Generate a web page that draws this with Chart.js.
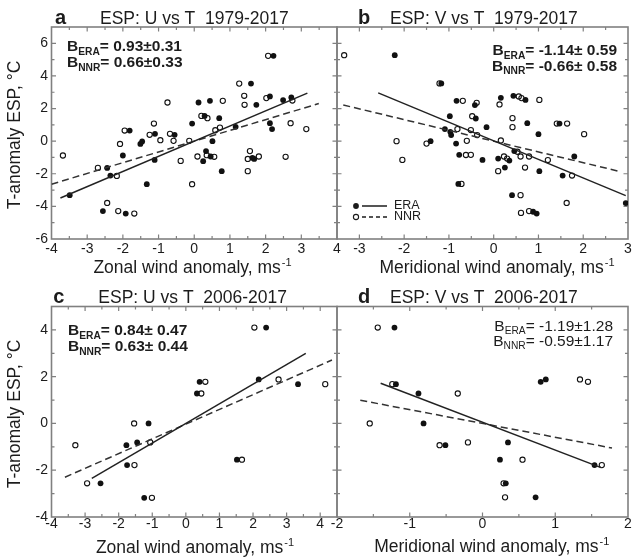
<!DOCTYPE html>
<html>
<head>
<meta charset="utf-8">
<script src="https://cdn.jsdelivr.net/npm/chart.js@4.4.1/dist/chart.umd.min.js"></script>
<style>
  html, body { margin: 0; padding: 0; background: #ffffff; width: 633px; height: 558px; overflow: hidden; }
  body { position: relative; }
  canvas { position: absolute; }
</style>
</head>
<body>
<canvas id="pa"></canvas>
<canvas id="pb"></canvas>
<canvas id="pc"></canvas>
<canvas id="pd"></canvas>
<script>
// ---------------- data ----------------
// a: zonal wind anomaly U vs ESP temperature anomaly, 1979-2017
const aEraU = [-3.49, -2.56, -2.44, -2.35, -2.00, -1.92, -1.81, -1.51, -1.46, -1.33, -1.10, -1.11, -0.55, -0.06, 0.12, 0.29, 0.44, 0.70, 0.51, 0.33, 0.25, 0.46, 0.77, 1.16, 1.59, 1.74, 1.63, 1.68, 2.22, 2.12, 2.12, 2.18, 2.49, 2.72];
const aEraT = [-3.31, -4.29, -1.64, -2.11, -0.88, -4.44, 0.65, -0.17, -0.02, -2.64, 0.45, -1.15, 0.39, 1.08, 2.37, 1.55, 2.47, 1.41, 0.00, -0.61, -1.23, -0.94, -1.84, 0.88, 3.53, 2.23, -1.02, -1.09, 5.23, 2.74, 1.10, 0.74, 2.52, 2.68];
const aNnrU = [-3.68, -2.70, -2.17, -2.44, -2.13, -1.68, -2.08, -1.95, -1.25, -1.13, -0.95, -0.75, -0.68, -0.58, -0.38, -0.14, -0.06, 0.09, 0.20, 0.37, 0.35, 0.56, 0.59, 0.72, 0.80, 1.26, 1.40, 1.41, 1.56, 1.50, 1.81, 1.50, 2.07, 2.02, 2.75, 2.70, 3.14, 2.56];
const aNnrT = [-0.88, -1.64, -2.13, -3.79, -4.29, -4.44, -0.17, 0.65, 0.39, 1.08, 0.06, 2.37, 0.45, 0.02, -1.21, 0.02, -2.64, -0.94, 1.55, 1.41, -0.86, -0.96, 0.67, 0.83, 2.47, 3.53, 2.78, 2.23, -0.61, -1.09, -0.94, -1.84, 5.23, 2.64, 2.49, 1.10, 0.74, -0.96];

// b: meridional wind anomaly V vs ESP temperature anomaly, 1979-2017
const bEraV = [-2.21, -1.17, -0.83, -0.42, -0.98, -0.40, -1.09, -0.97, -0.95, -1.41, -0.84, -0.77, -0.25, -0.79, 0.16, 0.44, 0.71, 0.75, 1.47, 1.00, -0.16, 0.10, 0.35, 0.46, 1.80, 0.25, 1.02, 1.54, 0.41, 0.88, 0.96, 2.95];
const bEraT = [5.27, 3.54, 2.47, 2.21, 1.53, 1.39, 0.74, 0.57, 0.37, 0.00, -0.15, -0.84, -1.15, -2.62, 2.66, 2.78, 2.53, 1.10, 1.08, 0.43, 0.86, -1.07, -1.19, -0.61, -0.94, -1.62, -1.84, -2.11, -3.31, -4.33, -4.44, -3.80];
const bNnrV = [-3.34, -1.21, -0.69, -0.38, -0.48, -0.81, -0.51, -0.37, -2.17, -1.50, -0.60, -2.04, -0.62, -0.51, -0.72, 0.13, 0.56, 0.62, 1.02, 0.42, 0.42, 1.41, 1.64, 2.02, 0.16, 0.23, 0.30, 0.53, 0.60, 0.79, 1.21, 0.10, 0.70, 1.75, 0.60, 0.61, 0.79, 1.63];
const bNnrT = [5.27, 3.54, 2.47, 2.35, 1.53, 0.74, 0.68, 0.37, 0.00, -0.15, 0.02, -1.15, -0.85, -0.84, -2.62, 2.25, 2.74, 2.64, 2.53, 1.41, 0.86, 1.08, 1.08, 0.43, 0.04, -0.94, -1.07, -0.65, -0.94, -0.94, -1.16, -1.84, -1.62, -2.11, -3.31, -4.40, -4.29, -3.79];

// c: zonal wind anomaly U vs ESP temperature anomaly, 2006-2017
const cEraU = [-2.54, -1.77, -1.75, -1.45, -1.11, -1.24, 0.33, 0.41, 1.52, 2.39, 2.17, 3.34];
const cEraT = [-2.56, -0.93, -1.78, -0.81, 0.00, -3.18, 1.28, 1.78, -1.55, 4.10, 1.88, 1.68];
const cNnrU = [-3.29, -2.94, -1.53, -1.54, -1.06, -1.01, 0.46, 0.58, 1.67, 2.04, 2.76, 4.15];
const cNnrT = [-0.93, -2.56, -1.78, 0.00, -0.81, -3.18, 1.28, 1.78, -1.55, 4.10, 1.88, 1.68];

// d: meridional wind anomaly V vs ESP temperature anomaly, 2006-2017
const dEraV = [-1.21, -1.19, -0.88, -0.81, -0.51, 0.35, 0.24, 0.32, 0.73, 0.80, 0.87, 1.54];
const dEraT = [4.10, 1.68, 1.28, 0.00, -0.93, -0.81, -1.55, -2.56, -3.16, 1.78, 1.88, -1.78];
const dNnrV = [-1.44, -1.24, -0.34, -1.55, -0.59, -0.20, 0.55, 0.29, 0.31, 1.34, 1.45, 1.64];
const dNnrT = [4.10, 1.68, 1.28, 0.00, -0.93, -0.81, -1.55, -2.56, -3.16, 1.88, 1.78, -1.78];

// regression slopes B with their uncertainties (panels a, b, c, d)
const slopeEra = [0.93, -1.14, 0.84, -1.19];
const errEra   = [0.31, 0.59, 0.47, 1.28];
const slopeNnr = [0.66, -0.66, 0.63, -0.59];
const errNnr   = [0.33, 0.58, 0.44, 1.17];
const interceptEra = [0.00, 0.02, 0.00, 0.05];
const interceptNnr = [0.00, 0.00, -0.03, 0.00];
// x extent of each fitted line
const spanEra = [[-3.75, 3.17], [-2.58, 2.95], [-2.80, 3.57], [-1.40, 1.63]];
const spanNnr = [[-4.00, 3.49], [-3.36, 2.78], [-3.60, 4.35], [-1.68, 1.78]];

// tick labels
const aXTicks = [-4, -3, -2, -1, 0, 1, 2, 3, 4];
const aYTicks = [-6, -4, -2, 0, 2, 4, 6];
const bXTicks = [-3, -2, -1, 0, 1, 2, 3];
const cXTicks = [-4, -3, -2, -1, 0, 1, 2, 3, 4];
const cYTicks = [-4, -2, 0, 2, 4];
const dXTicks = [-2, -1, 0, 1, 2];

// ---------------- styling ----------------
const FONT = "'Liberation Sans', Arial, Helvetica, sans-serif";
const INK = '#1c1c1c';
const FRAME = '#808080';
const fnt = (size, bold) => (bold ? 'bold ' : '') + size + 'px ' + FONT;

const panels = [
  {
    id: 'pa', k: 0, canvas: { left: 0, top: 0, width: 357, height: 285 },
    area: { L: 51.5, T: 27, R: 337, B: 239 },
    xMin: -4, xMax: 4, yMin: -6, yMax: 7, xTicks: aXTicks, yTicks: aYTicks, showY: true, xPad: 2,
    era: [aEraU, aEraT], nnr: [aNnrU, aNnrT],
    letter: 'a', title: 'ESP: U vs T  1979-2017', letterX: 55, titleX: 100, titleBase: 24,
    bAlign: 'left', bX: 67, bBase: [51, 67], bBold: true, pmGap: '',
    xTitle: 'Zonal wind anomaly, ms', xTitleCx: 192.5, xTitleBase: 272.5,
    yTitle: 'T-anomaly ESP, \u00B0C', yTitleCy: 135, legend: false
  },
  {
    id: 'pb', k: 1, canvas: { left: 317, top: 0, width: 333, height: 285 },
    area: { L: 337, T: 27, R: 628, B: 239 },
    xMin: -3.5, xMax: 3, yMin: -6, yMax: 7, xTicks: bXTicks, yTicks: [], showY: false, xPad: 2,
    era: [bEraV, bEraT], nnr: [bNnrV, bNnrT],
    letter: 'b', title: 'ESP: V vs T  1979-2017', letterX: 358, titleX: 390, titleBase: 24,
    bAlign: 'right', bX: 617, bBase: [55, 70.5], bBold: true, pmGap: ' ',
    xTitle: 'Meridional wind anomaly, ms', xTitleCx: 497, xTitleBase: 272.5,
    yTitle: null, legend: true
  },
  {
    id: 'pc', k: 2, canvas: { left: 0, top: 280, width: 357, height: 278 },
    area: { L: 51.5, T: 306.5, R: 337, B: 517 },
    xMin: -4, xMax: 4.5, yMin: -4, yMax: 5, xTicks: cXTicks, yTicks: cYTicks, showY: true, xPad: -1.5,
    era: [cEraU, cEraT], nnr: [cNnrU, cNnrT],
    letter: 'c', title: 'ESP: U vs T  2006-2017', letterX: 53.3, titleX: 98.3, titleBase: 303.3,
    bAlign: 'left', bX: 68, bBase: [335, 351], bBold: true, pmGap: ' ',
    xTitle: 'Zonal wind anomaly, ms', xTitleCx: 195, xTitleBase: 553,
    yTitle: 'T-anomaly ESP, \u00B0C', yTitleCy: 414, legend: false
  },
  {
    id: 'pd', k: 3, canvas: { left: 317, top: 280, width: 333, height: 278 },
    area: { L: 337, T: 306.5, R: 628, B: 517 },
    xMin: -2, xMax: 2, yMin: -4, yMax: 5, xTicks: dXTicks, yTicks: [], showY: false, xPad: -1.5,
    era: [dEraV, dEraT], nnr: [dNnrV, dNnrT],
    letter: 'd', title: 'ESP: V vs T  2006-2017', letterX: 358, titleX: 390, titleBase: 303.3,
    bAlign: 'right', bX: 613, bBase: [330.5, 345.5], bBold: false, pmGap: '',
    xTitle: 'Meridional wind anomaly, ms', xTitleCx: 491.7, xTitleBase: 552,
    yTitle: null, legend: false
  }
];

// frame with inward ticks on all four sides
const frameTicks = {
  id: 'frameTicks',
  beforeDatasetsDraw(chart) {
    const { ctx, chartArea: a, scales: { x, y } } = chart;
    ctx.save();
    ctx.strokeStyle = FRAME;
    ctx.lineWidth = 1.2;
    ctx.beginPath();
    for (let v = Math.ceil(x.min * 2) / 2; v <= x.max + 1e-9; v += 0.5) {
      const px = x.getPixelForValue(v);
      if (px <= a.left + 0.5 || px >= a.right - 0.5) continue;
      const len = Number.isInteger(v) ? 4.5 : 3;
      ctx.moveTo(px, a.bottom); ctx.lineTo(px, a.bottom - len);
      ctx.moveTo(px, a.top); ctx.lineTo(px, a.top + len);
    }
    for (let v = Math.ceil(y.min); v <= y.max + 1e-9; v += 1) {
      const py = y.getPixelForValue(v);
      if (py <= a.top + 0.5 || py >= a.bottom - 0.5) continue;
      const len = (v % 2 === 0) ? 4.5 : 3;
      ctx.moveTo(a.left, py); ctx.lineTo(a.left + len, py);
      ctx.moveTo(a.right, py); ctx.lineTo(a.right - len, py);
    }
    ctx.stroke();
    ctx.lineWidth = 1.6;
    ctx.strokeRect(a.left, a.top, a.right - a.left, a.bottom - a.top);
    ctx.restore();
  }
};

function drawSlopeLabel(ctx, x, y, sub, tail, bold, align, size) {
  const main = fnt(size, bold), small = fnt(size * 0.66, bold);
  ctx.font = main;
  const wB = ctx.measureText('B').width;
  const wT = ctx.measureText(tail).width;
  ctx.font = small;
  const wS = ctx.measureText(sub).width;
  const x0 = align === 'right' ? x - (wB + wS + wT) : x;
  ctx.textAlign = 'left';
  ctx.textBaseline = 'alphabetic';
  ctx.font = main; ctx.fillText('B', x0, y);
  ctx.font = small; ctx.fillText(sub, x0 + wB, y + 3.5);
  ctx.font = main; ctx.fillText(tail, x0 + wB + wS, y);
}

function makeTextPlugin(p) {
  const ox = p.canvas.left, oy = p.canvas.top;
  return {
    id: 'panelText',
    afterDraw(chart) {
      const ctx = chart.ctx;
      ctx.save();
      ctx.fillStyle = INK;
      ctx.strokeStyle = INK;
      ctx.textBaseline = 'alphabetic';
      ctx.textAlign = 'left';
      // panel letter and title
      ctx.font = fnt(20, true);
      ctx.fillText(p.letter, p.letterX - ox, p.titleBase - oy);
      ctx.font = fnt(17.5, false);
      ctx.fillText(p.title, p.titleX - ox, p.titleBase - oy);
      // regression slopes
      const k = p.k;
      const tailE = '= ' + slopeEra[k].toFixed(2) + '\u00B1' + p.pmGap + errEra[k].toFixed(2);
      const tailN = '= ' + slopeNnr[k].toFixed(2) + '\u00B1' + p.pmGap + errNnr[k].toFixed(2);
      const sz = p.bBold ? 15.5 : 15.5;
      drawSlopeLabel(ctx, p.bX - ox, p.bBase[0] - oy, 'ERA', tailE, p.bBold, p.bAlign, sz);
      drawSlopeLabel(ctx, p.bX - ox, p.bBase[1] - oy, 'NNR', tailN, p.bBold, p.bAlign, sz);
      // x axis title with superscript unit
      ctx.font = fnt(17.5, false);
      const w1 = ctx.measureText(p.xTitle).width;
      ctx.font = fnt(11, false);
      const w2 = ctx.measureText('-1').width;
      const xs = p.xTitleCx - ox - (w1 + w2 + 1) / 2;
      ctx.font = fnt(17.5, false);
      ctx.fillText(p.xTitle, xs, p.xTitleBase - oy);
      ctx.font = fnt(11, false);
      ctx.fillText('-1', xs + w1 + 1, p.xTitleBase - oy - 7);
      // y axis title
      if (p.yTitle) {
        ctx.save();
        ctx.translate(20 - ox, p.yTitleCy - oy);
        ctx.rotate(-Math.PI / 2);
        ctx.textAlign = 'center';
        ctx.font = fnt(17.5, false);
        ctx.fillText(p.yTitle, 0, 0);
        ctx.restore();
      }
      // legend
      if (p.legend) {
        const a = chart.chartArea;
        const mx = a.left + 19, l0 = a.left + 25, l1 = a.left + 50, tx = a.left + 57;
        const r1 = a.bottom - 33, r2 = a.bottom - 22;
        ctx.lineWidth = 1.5;
        ctx.beginPath(); ctx.arc(mx, r1, 2.9, 0, Math.PI * 2); ctx.fill();
        ctx.beginPath(); ctx.moveTo(l0, r1); ctx.lineTo(l1, r1); ctx.stroke();
        ctx.lineWidth = 1.1;
        ctx.beginPath(); ctx.arc(mx, r2, 2.6, 0, Math.PI * 2); ctx.stroke();
        ctx.lineWidth = 1.5;
        ctx.setLineDash([4, 3]);
        ctx.beginPath(); ctx.moveTo(l0, r2); ctx.lineTo(l1, r2); ctx.stroke();
        ctx.setLineDash([]);
        ctx.font = fnt(12.5, false);
        ctx.textBaseline = 'middle';
        ctx.fillText('ERA', tx, r1);
        ctx.fillText('NNR', tx, r2);
      }
      ctx.restore();
    }
  };
}

function pts(xs, ys) { return xs.map((x, i) => ({ x: x, y: ys[i] })); }
function fitLine(k, slope, icpt, span) {
  return span[k].map(x => ({ x: x, y: icpt[k] + slope[k] * x }));
}

function build(p) {
  const cv = document.getElementById(p.id);
  cv.width = p.canvas.width;
  cv.height = p.canvas.height;
  cv.style.left = p.canvas.left + 'px';
  cv.style.top = p.canvas.top + 'px';
  const xH = 22;
  const yW = p.showY ? p.area.L - p.canvas.left : 0;
  const padding = {
    left: p.showY ? 0 : p.area.L - p.canvas.left,
    top: p.area.T - p.canvas.top,
    right: p.canvas.left + p.canvas.width - p.area.R,
    bottom: p.canvas.top + p.canvas.height - p.area.B - xH
  };
  const k = p.k;
  new Chart(cv, {
    type: 'scatter',
    data: {
      datasets: [
        { type: 'line', label: 'ERA fit', data: fitLine(k, slopeEra, interceptEra, spanEra),
          borderColor: '#222', borderWidth: 1.5, pointRadius: 0, fill: false },
        { type: 'line', label: 'NNR fit', data: fitLine(k, slopeNnr, interceptNnr, spanNnr),
          borderColor: '#333', borderWidth: 1.5, borderDash: [7, 4], pointRadius: 0, fill: false },
        { label: 'ERA', data: pts(p.era[0], p.era[1]), pointRadius: 2.9, pointBorderWidth: 0,
          backgroundColor: '#111', borderColor: '#111' },
        { label: 'NNR', data: pts(p.nnr[0], p.nnr[1]), pointRadius: 2.6, pointBorderWidth: 1.1,
          backgroundColor: 'rgba(0,0,0,0)', borderColor: '#111' }
      ]
    },
    options: {
      responsive: false,
      animation: false,
      devicePixelRatio: 1,
      events: [],
      layout: { padding: padding },
      plugins: { legend: { display: false }, title: { display: false }, tooltip: { enabled: false } },
      scales: {
        x: {
          type: 'linear', position: 'bottom', min: p.xMin, max: p.xMax,
          grid: { display: false, drawTicks: false }, border: { display: false },
          ticks: { font: { family: FONT, size: 14 }, color: INK, padding: p.xPad,
                   autoSkip: false, maxRotation: 0, minRotation: 0, callback: v => String(v) },
          afterBuildTicks: s => { s.ticks = p.xTicks.map(v => ({ value: v })); },
          afterFit: s => { s.height = xH; }
        },
        y: {
          type: 'linear', position: 'left', min: p.yMin, max: p.yMax, display: p.showY,
          grid: { display: false, drawTicks: false }, border: { display: false },
          ticks: { font: { family: FONT, size: 14 }, color: INK, padding: 3.5,
                   autoSkip: false, callback: v => String(v) },
          afterBuildTicks: s => { s.ticks = p.yTicks.map(v => ({ value: v })); },
          afterFit: s => { s.width = yW; }
        }
      }
    },
    plugins: [frameTicks, makeTextPlugin(p)]
  });
}

panels.forEach(build);
</script>
</body>
</html>
